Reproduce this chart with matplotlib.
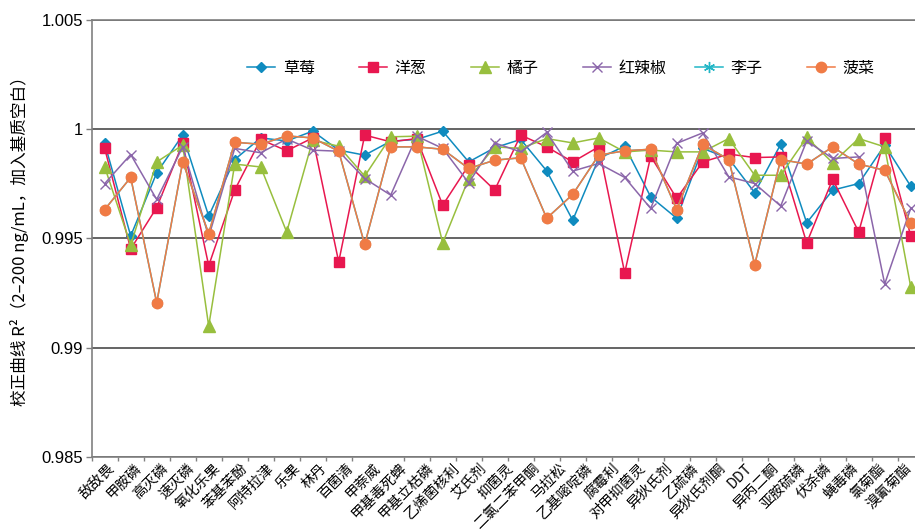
import matplotlib
matplotlib.use('Agg')
import matplotlib.pyplot as plt
import numpy as np
from matplotlib.ticker import FuncFormatter

plt.rcParams['font.family'] = ['Noto Sans CJK SC', 'DejaVu Sans']

# x-axis labels (31 names, the chart itself has 32 points)
pesticides = ['敌敌畏', '甲胺磷', '高灭磷', '速灭磷', '氧化乐果', '苯基苯酚', '阿特拉津',
              '乐果', '林丹', '百菌清', '甲萘威', '甲基毒死蜱', '甲基立枯磷', '乙烯菌核利',
              '艾氏剂', '抑菌灵', '二氯二苯甲酮', '马拉松', '乙基嘧啶磷', '腐霉利', '对甲抑菌灵',
              '异狄氏剂', '乙硫磷', '异狄氏剂酮', 'DDT', '异丙二酮', '亚胺硫磷', '伏杀磷',
              '蝇毒磷', '氯菊酯', '溴氰菊酯']

strawberry = [0.99935, 0.99511, 0.99800, 0.99973, 0.99602, 0.99861, 0.99960, 0.99946,
              0.99991, 0.99904, 0.99881, 0.99945, 0.99953, 0.99991, 0.99850, 0.99915,
              0.99953, 0.99809, 0.99583, 0.99866, 0.99922, 0.99690, 0.99592, 0.99912,
              0.99866, 0.99709, 0.99931, 0.99571, 0.99721, 0.99751, 0.99927, 0.99739]
onion = [0.99912, 0.99451, 0.99641, 0.99935, 0.99375, 0.99721, 0.99953, 0.99901,
         0.99960, 0.99392, 0.99973, 0.99942, 0.99957, 0.99652, 0.99835, 0.99721,
         0.99973, 0.99919, 0.99850, 0.99919, 0.99342, 0.99876, 0.99683, 0.99850,
         0.99886, 0.99870, 0.99873, 0.99479, 0.99771, 0.99529, 0.99960, 0.99512]
orange = [0.99827, 0.99469, 0.99850, 0.99927, 0.99098, 0.99840, 0.99827, 0.99529,
          0.99950, 0.99922, 0.99785, 0.99965, 0.99968, 0.99479, 0.99774, 0.99919,
          0.99912, 0.99957, 0.99937, 0.99960, 0.99896, 0.99904, 0.99896, 0.99896,
          0.99957, 0.99789, 0.99789, 0.99962, 0.99846, 0.99957, 0.99919, 0.99278]
pepper = [0.99751, 0.99884, 0.99678, 0.99919, 0.99507, 0.99912, 0.99892, 0.99955,
          0.99904, 0.99899, 0.99774, 0.99698, 0.99968, 0.99912, 0.99754, 0.99937,
          0.99896, 0.99985, 0.99808, 0.99843, 0.99779, 0.99637, 0.99935, 0.99983,
          0.99782, 0.99751, 0.99648, 0.99946, 0.99866, 0.99873, 0.99291, 0.99637]
plum = [0.99632, 0.99779, 0.99205, 0.99850, 0.99522, 0.99940, 0.99931, 0.99969,
        0.99960, 0.99899, 0.99472, 0.99919, 0.99919, 0.99908, 0.99820, 0.99858,
        0.99869, 0.99592, 0.99701, 0.99881, 0.99901, 0.99908, 0.99632, 0.99930,
        0.99861, 0.99380, 0.99861, 0.99840, 0.99919, 0.99840, 0.99812, 0.99571]
spinach = [0.99632, 0.99779, 0.99205, 0.99850, 0.99522, 0.99940, 0.99931, 0.99969,
           0.99960, 0.99899, 0.99472, 0.99919, 0.99919, 0.99908, 0.99820, 0.99858,
           0.99869, 0.99592, 0.99701, 0.99881, 0.99901, 0.99908, 0.99632, 0.99930,
           0.99861, 0.99380, 0.99861, 0.99840, 0.99919, 0.99840, 0.99812, 0.99571]

names = ['草莓', '洋葱', '橘子', '红辣椒', '李子', '菠菜']
values = [strawberry, onion, orange, pepper, plum, spinach]
colors = ['#0f8bbf', '#e8174f', '#98bf3e', '#8b66aa', '#21b6c6', '#f07b45']
markers = ['D', 's', '^', 'x', (6, 2, 0), 'o']
msizes = [5.5, 7, 8, 7.5, 8, 7.5]

x = np.arange(len(strawberry))

fig = plt.figure(figsize=(9.15, 5.31), dpi=100)
# axes runs a little past the right edge, like the reference
ax = fig.add_axes([91.7 / 915, (531 - 456.7) / 531, 832 / 915, 436.7 / 531])

lines = []
for name, vals, c, m, ms in zip(names, values, colors, markers, msizes):
    ln, = ax.plot(x, vals, color=c, marker=m, ms=ms, lw=1.1,
                  mfc=c, mec=c, mew=1.0, label=name)
    lines.append(ln)

ax.set_xlim(-0.5, len(x) - 0.5)
ax.set_ylim(0.985, 1.005)
ax.set_yticks([0.985, 0.99, 0.995, 1.0, 1.005])
ax.yaxis.set_major_formatter(FuncFormatter(lambda v, p: f'{v:g}'))
ax.yaxis.grid(True, color='#4a4a4a', lw=1.2)
ax.set_axisbelow(True)

for s in ax.spines.values():
    s.set_color('#808080')
    s.set_linewidth(1.2)

ax.tick_params(axis='y', direction='out', length=4.3, width=1, color='#808080',
               pad=2, labelsize=12, labelfontfamily=['Liberation Sans', 'DejaVu Sans'])

# label slots are spread a bit wider than the category ticks
label_pos = np.linspace(0.28, 30.94, len(pesticides))
ax.set_xticks(label_pos)
ax.set_xticklabels(pesticides)
ax.set_xticks(np.arange(-0.5, len(x), 1), minor=True)
ax.tick_params(axis='x', which='major', length=0, pad=6.7, labelsize=10.3)
ax.tick_params(axis='x', which='minor', direction='out', length=3, width=1, color='#808080')
for lab in ax.get_xticklabels():
    lab.set_rotation(45)
    lab.set_ha('right')
    lab.set_va('center')
    lab.set_rotation_mode('anchor')

# legend, one entry every 112 px
for i, ln in enumerate(lines):
    fig.legend(handles=[ln], labels=[names[i]], loc='center left',
               bbox_to_anchor=((246.7 + 112 * i) / 915, 1 - 68 / 531),
               frameon=False, borderpad=0, borderaxespad=0,
               handlelength=1.8, handletextpad=0.45, fontsize=11.5)

fig.text(20 / 915, 1 - 237 / 531, '校正曲线 R²（2–200 ng/mL，加入基质空白）',
         rotation=90, ha='center', va='center', fontsize=12)

fig.savefig('out.png', dpi=100)
